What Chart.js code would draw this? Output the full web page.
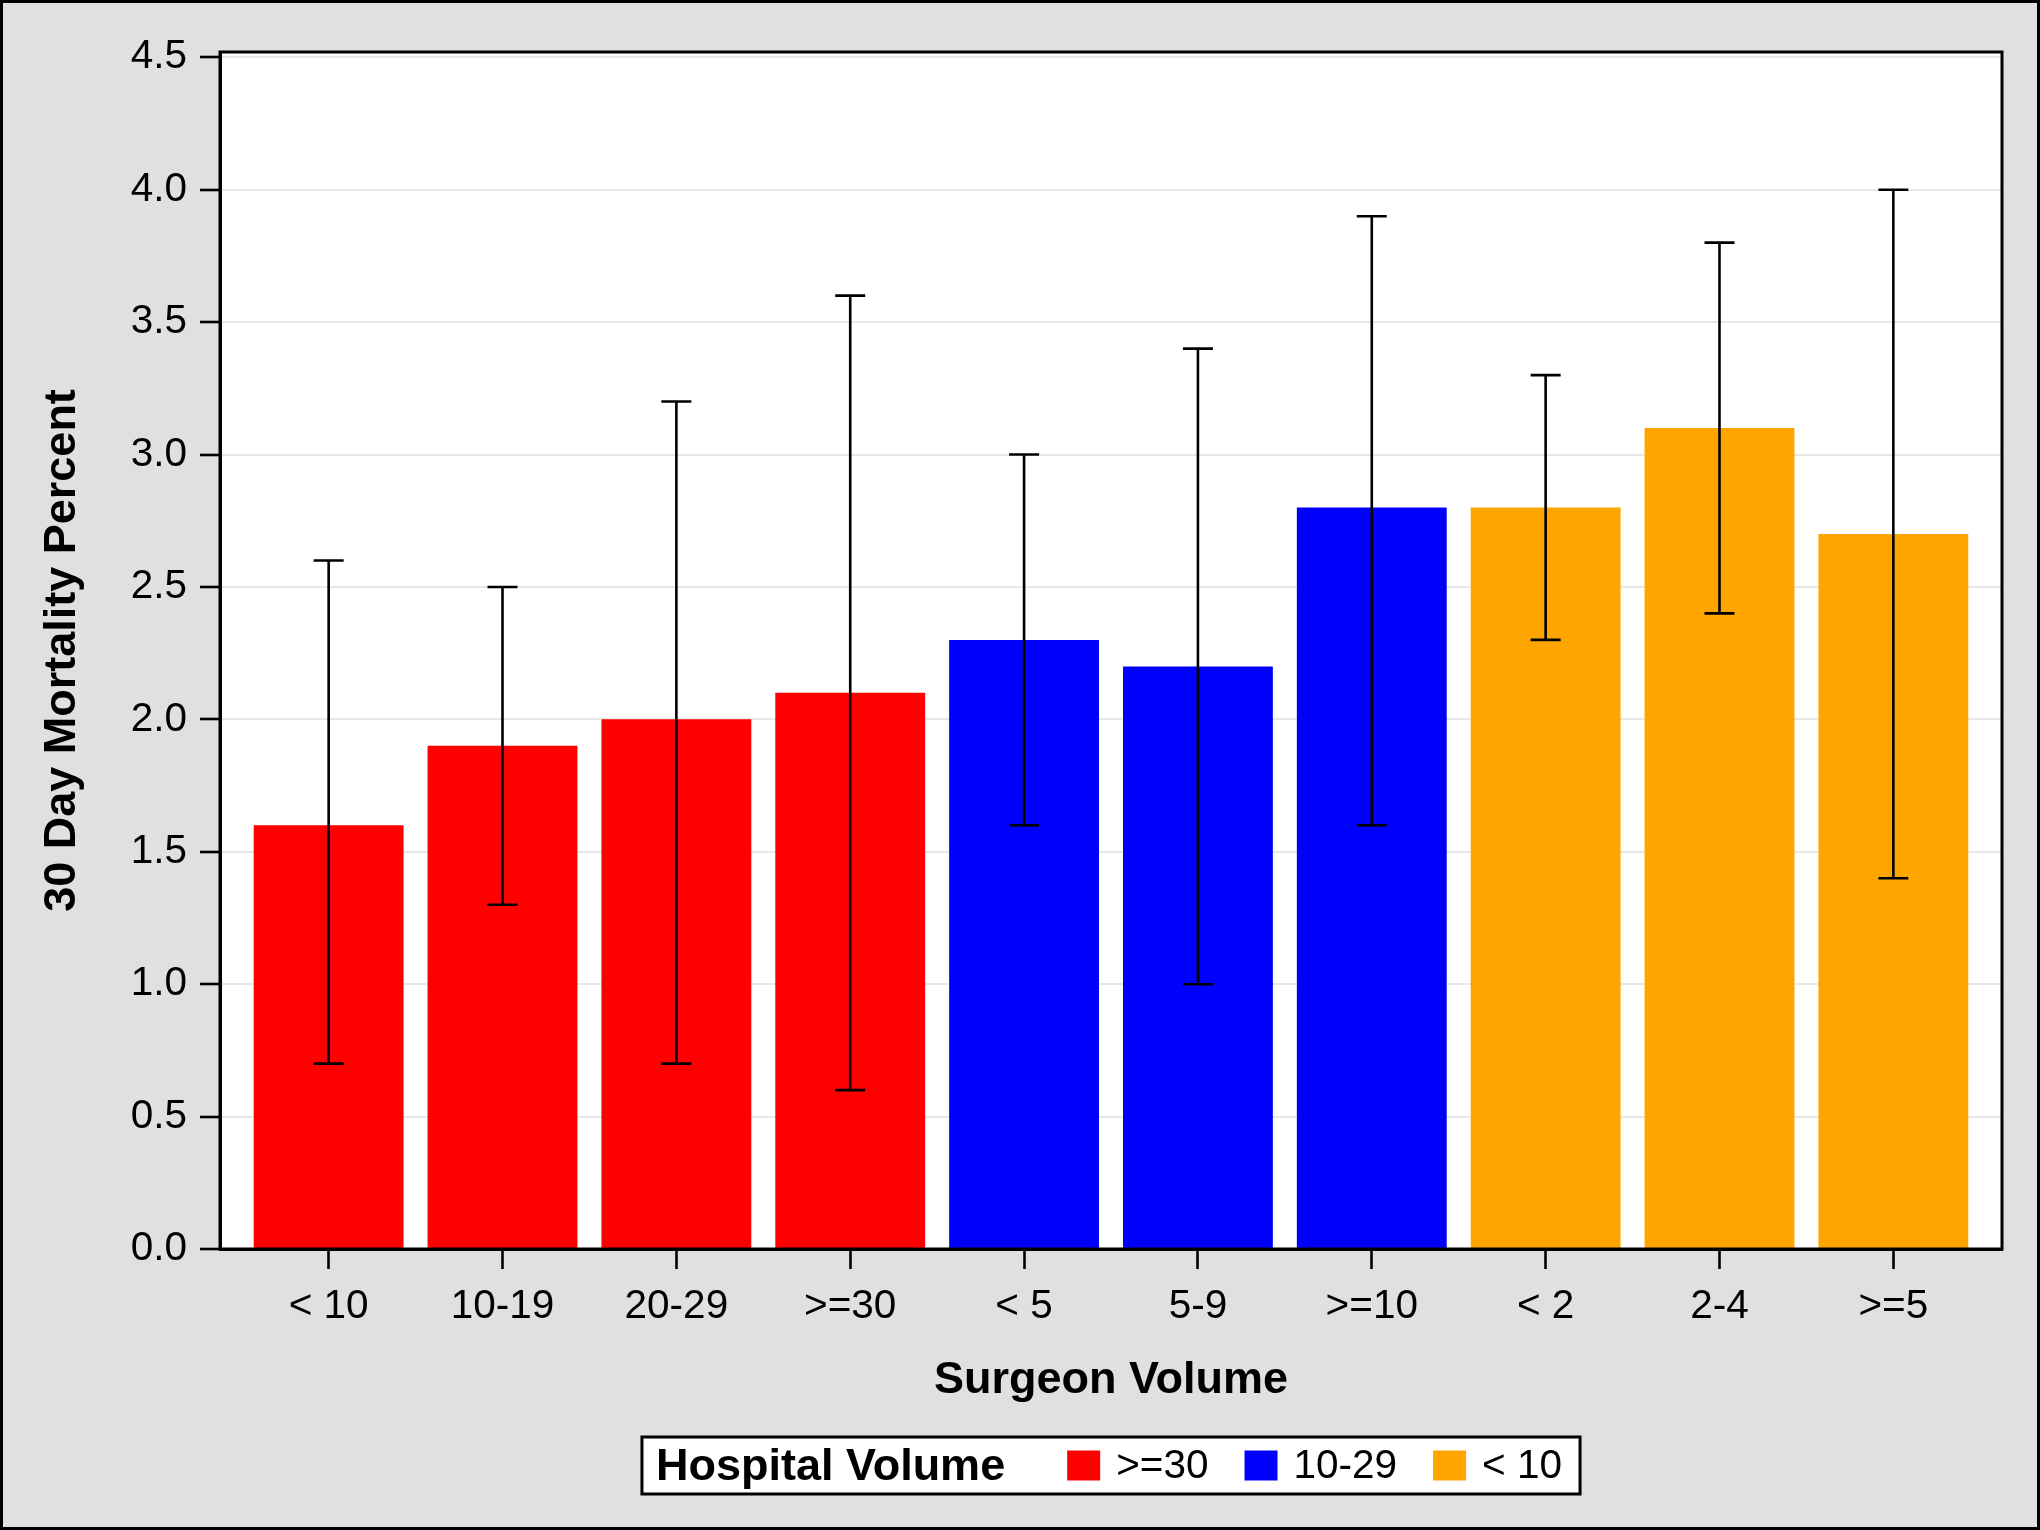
<!DOCTYPE html>
<html><head><meta charset="utf-8">
<script src="https://cdn.jsdelivr.net/npm/chart.js@4.4.0/dist/chart.umd.min.js"></script>
<style>html,body{margin:0;padding:0;background:#E0E0E0;} canvas{display:block;}</style>
</head><body>
<canvas id="c" width="2040" height="1530"></canvas>
<script>
// ---- data ----
const categories = ['< 10', '10-19', '20-29', '>=30', '< 5', '5-9', '>=10', '< 2', '2-4', '>=5'];
const hospitalGroups = ['>=30', '10-29', '< 10'];
const categoryGroup = [0, 0, 0, 0, 1, 1, 1, 2, 2, 2];
const mortality = [1.6, 1.9, 2.0, 2.1, 2.3, 2.2, 2.8, 2.8, 3.1, 2.7];
const ciLower = [0.7, 1.3, 0.7, 0.6, 1.6, 1.0, 1.6, 2.3, 2.4, 1.4];
const ciUpper = [2.6, 2.5, 3.2, 3.6, 3.0, 3.4, 3.9, 3.3, 3.8, 4.0];
const yTickValues = [0, 0.5, 1.0, 1.5, 2.0, 2.5, 3.0, 3.5, 4.0, 4.5];
const yTickLabels = ['0.0', '0.5', '1.0', '1.5', '2.0', '2.5', '3.0', '3.5', '4.0', '4.5'];
const xTitle = 'Surgeon Volume';
const yTitle = '30 Day Mortality Percent';
const legendTitle = 'Hospital Volume';
const groupColors = ['#FF0000', '#0000FF', '#FFA500'];

const FAMILY = '"Liberation Sans", Arial, sans-serif';
Chart.defaults.font.family = FAMILY;
Chart.defaults.color = '#000';

const datasets = hospitalGroups.map((g, gi) => ({
  label: g,
  backgroundColor: groupColors[gi],
  borderWidth: 0,
  grouped: false,
  categoryPercentage: 1,
  barPercentage: 0.862,
  data: categories.map((c, i) => ({ x: i, y: mortality[i] })).filter((p, i) => categoryGroup[i] === gi)
}));

const background = {
  id: 'background',
  beforeDraw(chart) {
    const { ctx, chartArea: a } = chart;
    ctx.save();
    ctx.fillStyle = '#E0E0E0';
    ctx.fillRect(0, 0, chart.width, chart.height);
    ctx.fillStyle = '#FFFFFF';
    ctx.fillRect(a.left, a.top, a.right - a.left, a.bottom - a.top);
    ctx.restore();
  }
};

const errorBars = {
  id: 'errorBars',
  afterDatasetsDraw(chart) {
    const { ctx, scales: { x, y } } = chart;
    ctx.save();
    ctx.strokeStyle = '#000';
    ctx.lineWidth = 2.6;
    categories.forEach((c, i) => {
      const px = x.getPixelForValue(i);
      const yl = y.getPixelForValue(ciLower[i]);
      const yh = y.getPixelForValue(ciUpper[i]);
      ctx.beginPath();
      ctx.moveTo(px, yl); ctx.lineTo(px, yh);
      ctx.moveTo(px - 15, yl); ctx.lineTo(px + 15, yl);
      ctx.moveTo(px - 15, yh); ctx.lineTo(px + 15, yh);
      ctx.stroke();
    });
    ctx.restore();
  }
};

const frameAndLegend = {
  id: 'frameAndLegend',
  afterDraw(chart) {
    const { ctx, chartArea: a } = chart;
    ctx.save();
    // plot frame
    ctx.strokeStyle = '#000';
    ctx.lineWidth = 3;
    ctx.strokeRect(a.left, a.top, a.right - a.left, a.bottom - a.top);
    // outer border
    ctx.strokeRect(1.5, 1.5, chart.width - 3, chart.height - 3);

    // legend
    const ds = chart.data.datasets;
    const titleFont = 'bold 45px ' + FAMILY;
    const itemFont = '40.5px ' + FAMILY;
    ctx.font = titleFont;
    const tw = ctx.measureText(legendTitle).width;
    ctx.font = itemFont;
    const iw = ds.map(d => ctx.measureText(d.label).width);
    const padL = 14, padR = 18, gapTitle = 62, sw = 33, sh = 30, gapSw = 16, gapItem = 36;
    const total = padL + tw + gapTitle + iw.reduce((s, w) => s + sw + gapSw + w, 0) + gapItem * (ds.length - 1) + padR;
    const cx = (a.left + a.right) / 2;
    const left = cx - total / 2, top = 1437, h = 57, mid = top + h / 2;
    ctx.fillStyle = '#FFFFFF';
    ctx.fillRect(left, top, total, h);
    ctx.lineWidth = 3;
    ctx.strokeStyle = '#000';
    ctx.strokeRect(left, top, total, h);
    ctx.fillStyle = '#000';
    ctx.textBaseline = 'middle';
    ctx.textAlign = 'left';
    ctx.font = titleFont;
    let xx = left + padL;
    ctx.fillText(legendTitle, xx, mid + 2);
    xx += tw + gapTitle;
    ctx.font = itemFont;
    ds.forEach((d, i) => {
      ctx.fillStyle = d.backgroundColor;
      ctx.fillRect(xx, mid - sh / 2, sw, sh);
      xx += sw + gapSw;
      ctx.fillStyle = '#000';
      ctx.fillText(d.label, xx, mid + 1.5);
      xx += iw[i] + gapItem;
    });
    ctx.restore();
  }
};

new Chart(document.getElementById('c'), {
  type: 'bar',
  data: { datasets },
  plugins: [background, errorBars, frameAndLegend],
  options: {
    responsive: false,
    animation: false,
    devicePixelRatio: 1,
    layout: { padding: { left: 0, top: 52, right: 38, bottom: 0 } },
    plugins: { legend: { display: false }, tooltip: { enabled: false } },
    scales: {
      x: {
        type: 'linear',
        min: -0.625,
        max: 9.625,
        offset: false,
        afterBuildTicks: (s) => { s.ticks = categories.map((c, i) => ({ value: i })); },
        afterFit: (s) => { s.height = 281; },
        ticks: {
          autoSkip: false, maxRotation: 0, minRotation: 0, padding: 14,
          font: { size: 40.5 }, color: '#000',
          callback: (v, i) => categories[i]
        },
        grid: { offset: false, drawOnChartArea: false, drawTicks: true, tickLength: 20, tickColor: '#000', tickWidth: 2.6 },
        border: { display: true, color: '#000', width: 3 },
        title: { display: true, text: xTitle, font: { size: 45, weight: 'bold' }, color: '#000', padding: { top: 0, bottom: 122 } }
      },
      y: {
        min: 0,
        max: 4.52,
        afterBuildTicks: (s) => { s.ticks = yTickValues.map(v => ({ value: v })); },
        afterFit: (s) => { s.width = 220; },
        ticks: {
          padding: 13, font: { size: 40.5 }, color: '#000',
          callback: (v, i) => yTickLabels[i]
        },
        grid: { color: '#E8E8E8', lineWidth: 2, drawTicks: true, tickLength: 20, tickColor: '#000', tickWidth: 2.6 },
        border: { display: true, color: '#000', width: 3 },
        title: { display: true, text: yTitle, font: { size: 45, weight: 'bold' }, color: '#000', padding: { top: 36, bottom: 0 } }
      }
    }
  }
});
</script>
</body></html>
